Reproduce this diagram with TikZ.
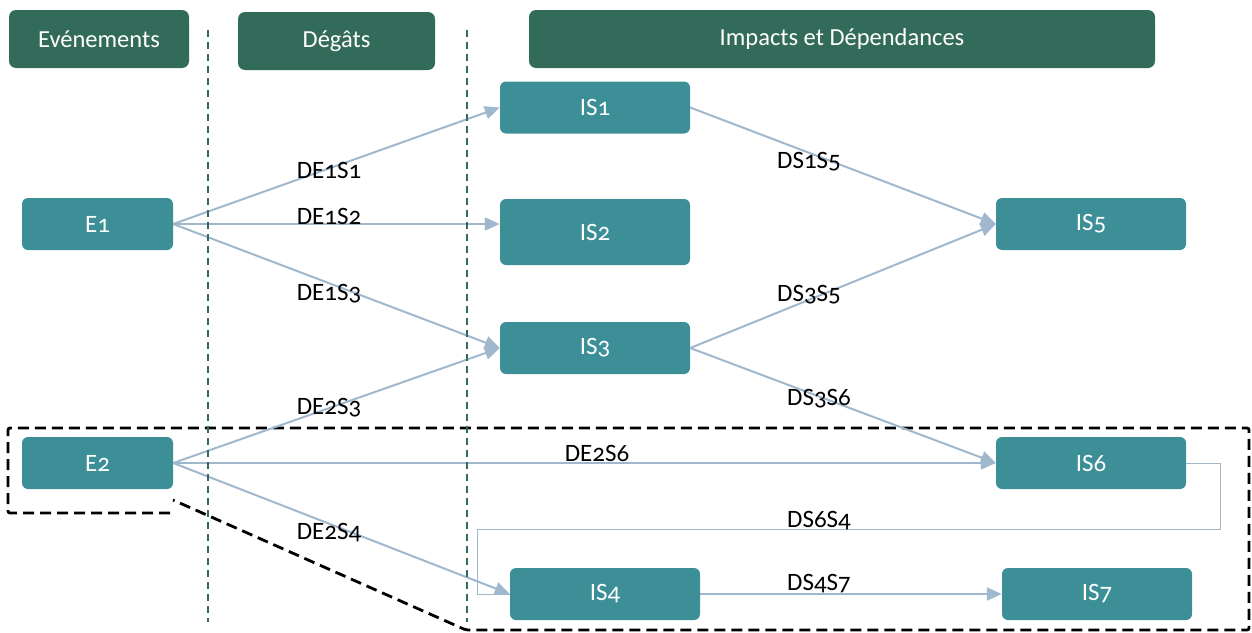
\documentclass[tikz,border=0pt]{standalone}
\usepackage{fontspec}
\setmainfont{Carlito}[Numbers=OldStyle]
\usetikzlibrary{arrows.meta}
\definecolor{hdr}{HTML}{336B5A}
\definecolor{teal1}{HTML}{3C8F97}
\definecolor{arr}{HTML}{A0B8CE}
\tikzset{
  header/.style={rectangle, rounded corners=7pt, fill=hdr, text=white, inner sep=0pt, minimum height=58pt, font=\fontsize{24.5}{28}\selectfont},
  box/.style={rectangle, rounded corners=6pt, fill=teal1, text=white, inner sep=0pt, minimum width=190pt, minimum height=52pt, font=\fontsize{25}{28}\selectfont},
  ebox/.style={box, minimum width=151pt},
  conn/.style={draw=arr, line width=2pt, -{Triangle[length=15pt,width=13pt]}},
  thin/.style={draw=arr, line width=1pt},
  lbl/.style={inner sep=0pt, text=black, font=\fontsize{25}{28}\selectfont},
  sep/.style={draw=hdr, line width=1.4pt, dash pattern=on 7pt off 5pt},
  zone/.style={draw=black, line width=2.8pt, dash pattern=on 11pt off 6pt, rounded corners=2pt}
}
\begin{document}
\begin{tikzpicture}[x=1pt,y=-1pt]
\useasboundingbox (0,0) rectangle (1252,632);
% headers
\node[header, minimum width=180pt] (hEv) at (99,39) {Evénements};
\node[header, minimum width=197pt] (hDe) at (336.5,41) {Dégâts};
\node[header, minimum width=626pt] (hIm) at (842,39) {Impacts et Dépendances};
% separators
\coordinate (s1a) at (208,30); \coordinate (s1b) at (208,622);
\coordinate (s2a) at (467,30); \coordinate (s2b) at (467,622);
% zone
\coordinate (z1) at (170,513); \coordinate (z2) at (8,513); \coordinate (z3) at (8,428);
\coordinate (z4) at (1249,428); \coordinate (z5) at (1249,630); \coordinate (z6) at (466,630);
\coordinate (z7) at (173,500);
\draw[zone] (z1) -- (z2) -- (z3) -- (z4) -- (z5) -- (z6) -- (z7);
% nodes
\node[ebox] (E1) at (97.5,224) {E1};
\node[ebox] (E2) at (97.5,463) {E2};
\node[box] (IS1) at (595,107.5) {IS1};
\node[box, minimum height=66pt] (IS2) at (595,232) {IS2};
\node[box] (IS3) at (595,348) {IS3};
\node[box] (IS5) at (1091,224) {IS5};
\node[box] (IS6) at (1091,463) {IS6};
\node[box] (IS4) at (605,594) {IS4};
\node[box] (IS7) at (1097,594) {IS7};
% elbow connector
\coordinate (c1) at (1220,463); \coordinate (c2) at (1220,529);
\coordinate (c3) at (477,529); \coordinate (c4) at (477,594);
\draw[thin] (IS6.east) -- (c1) -- (c2) -- (c3) -- (c4) -- (IS4.west);
% connectors
\draw[conn] (E1.east) -- (IS1.west);
\draw[conn] (E1.east) -- (IS2.west |- E1.east);
\draw[conn] (E1.east) -- (IS3.west);
\draw[conn] (E2.east) -- (IS3.west);
\draw[conn] (E2.east) -- (IS6.west);
\draw[conn] (E2.east) -- (IS4.west);
\draw[conn] (IS1.east) -- (IS5.west);
\draw[conn] (IS3.east) -- (IS5.west);
\draw[conn] (IS3.east) -- (IS6.west);
\draw[conn] (IS4.east) -- (IS7.west);
% separators on top
\draw[sep] (s1a) -- (s1b);
\draw[sep] (s2a) -- (s2b);
% labels
\node[lbl] (l1) at (329,170) {DE1S1};
\node[lbl] (l2) at (329,216) {DE1S2};
\node[lbl] (l3) at (329,294) {DE1S3};
\node[lbl] (l4) at (329,408) {DE2S3};
\node[lbl] (l5) at (329,533) {DE2S4};
\node[lbl] (l6) at (597,453) {DE2S6};
\node[lbl] (l7) at (809,162) {DS1S5};
\node[lbl] (l8) at (809,295) {DS3S5};
\node[lbl] (l9) at (819,399) {DS3S6};
\node[lbl] (l10) at (819,521) {DS6S4};
\node[lbl] (l11) at (819,584) {DS4S7};
\end{tikzpicture}
\end{document}
